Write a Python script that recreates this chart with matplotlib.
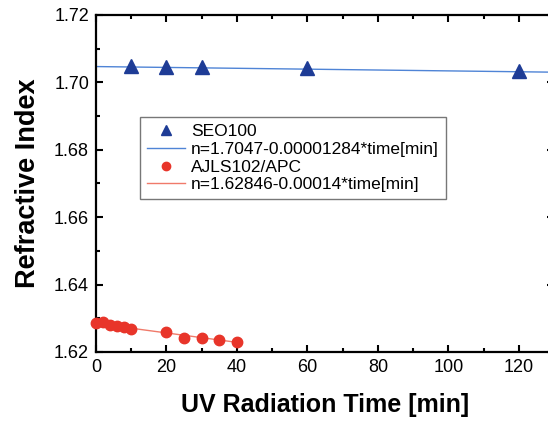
import matplotlib
matplotlib.use("Agg")
import matplotlib.pyplot as plt
from matplotlib.ticker import MultipleLocator
from matplotlib.lines import Line2D
import numpy as np

plt.rcParams['font.family'] = ['Liberation Sans', 'DejaVu Sans']

# Data
seo_time = [10, 20, 30, 60, 120]
seo_n = [1.7050, 1.7047, 1.7045, 1.7043, 1.7035]
seo_fit = (1.7047, -0.00001284)

ajls_time = [0, 2, 4, 6, 8, 10, 20, 25, 30, 35, 40]
ajls_n = [1.6285, 1.6290, 1.6280, 1.6278, 1.6275, 1.6267, 1.6258, 1.6242, 1.6241, 1.6236, 1.6229]
ajls_fit = (1.62846, -0.00014)

labels = ["SEO100", "n=1.7047-0.00001284*time[min]",
          "AJLS102/APC", "n=1.62846-0.00014*time[min]"]

xlabel = "UV Radiation Time [min]"
ylabel = "Refractive Index"

fig = plt.figure(figsize=(5.48, 4.23), dpi=100)
ax = fig.add_axes([96/548, 71/423, 458/548, 337/423])

blue_dark = "#1e3c96"
blue_line = "#4f84d6"
red_dot = "#e8352a"
red_line = "#f07a6a"

xs = np.array([0, 130])
ax.plot(xs, seo_fit[0] + seo_fit[1]*xs, color=blue_line, lw=1.0, zorder=2)
ax.plot(seo_time, seo_n, ls='none', marker='^', ms=10, color=blue_dark, zorder=3)

xa = np.array([0, 40])
ax.plot(xa, ajls_fit[0] + ajls_fit[1]*xa, color=red_line, lw=1.0, zorder=2)
ax.plot(ajls_time, ajls_n, ls='none', marker='o', ms=7.5, color=red_dot, zorder=3, clip_on=False)

ax.set_xlim(0, 130)
ax.set_ylim(1.62, 1.72)
ax.xaxis.set_major_locator(MultipleLocator(20))
ax.xaxis.set_minor_locator(MultipleLocator(10))
ax.yaxis.set_major_locator(MultipleLocator(0.02))
ax.yaxis.set_minor_locator(MultipleLocator(0.01))
ax.yaxis.set_major_formatter(matplotlib.ticker.FormatStrFormatter('%.2f'))
ax.tick_params(which='both', direction='in', top=True, right=True, width=1.5, labelsize=13)
ax.tick_params(which='major', length=5, pad=5)
ax.tick_params(which='minor', length=3)
for s in ax.spines.values():
    s.set_linewidth(1.6)

ax.set_xlabel(xlabel, fontsize=18, fontweight='bold', labelpad=12)
ax.set_ylabel(ylabel, fontsize=19.5, fontweight='bold', labelpad=9)

handles = [
    Line2D([], [], ls='none', marker='^', ms=7, color=blue_dark),
    Line2D([], [], color=blue_line, lw=1.0),
    Line2D([], [], ls='none', marker='o', ms=6, color=red_dot),
    Line2D([], [], color=red_line, lw=1.0),
]
leg = ax.legend(handles, labels, loc='upper left', bbox_to_anchor=((140-96)/458, (352-117)/337),
                fontsize=12.5, frameon=True, fancybox=False, edgecolor='#555555',
                labelspacing=0.15, handlelength=2.2, handletextpad=0.35,
                borderpad=0.4, borderaxespad=0)
leg.get_frame().set_linewidth(1.0)

fig.savefig("out.png", dpi=100)
